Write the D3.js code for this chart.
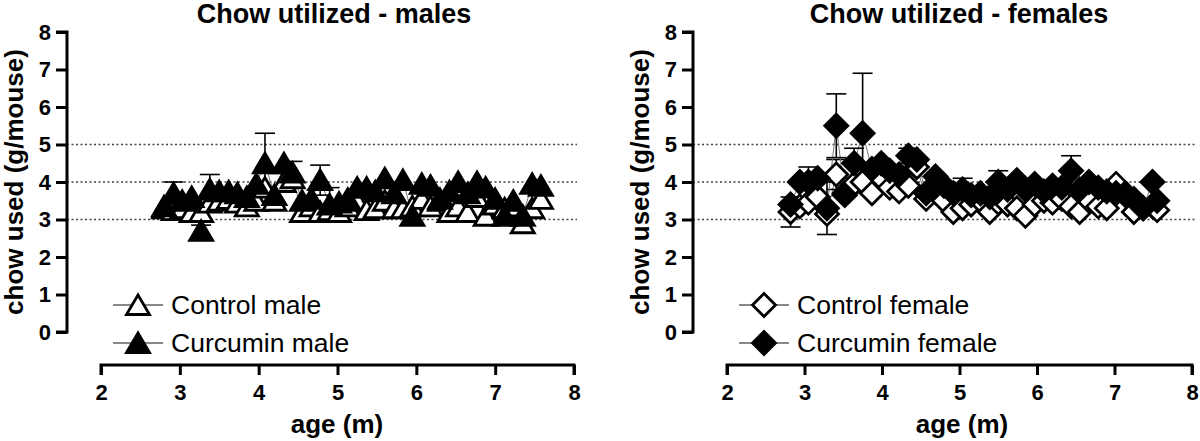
<!DOCTYPE html>
<html>
<head>
<meta charset="utf-8">
<script src="https://cdn.jsdelivr.net/npm/d3@7"></script>
<style>
  body { margin: 0; background: #fff; }
  svg { display: block; font-family: "Liberation Sans", Arial, sans-serif; }
</style>
</head>
<body>
<div id="chart"></div>
<script>
// ages (months) at each measurement
const ageMale = [2.80, 2.92, 3.03, 3.15, 3.27, 3.38, 3.50, 3.62, 3.73, 3.85, 3.97, 4.08, 4.20, 4.32,
  4.43, 4.55, 4.67, 4.78, 4.90, 5.02, 5.13, 5.25, 5.37, 5.48, 5.60, 5.72, 5.83, 5.95, 6.07, 6.18,
  6.30, 6.42, 6.53, 6.65, 6.77, 6.88, 7.00, 7.12, 7.23, 7.35, 7.47, 7.58];
const controlMale = [3.3, 3.25, 3.3, 3.2, 3.2, 3.45, 3.5, 3.55, 3.45, 3.35, 3.5, 3.85, 3.5, 4.0,
  4.1, 3.2, 3.35, 3.2, 3.25, 3.2, 3.35, 3.5, 3.25, 3.3, 3.5, 3.3, 3.3, 3.35, 3.55, 3.35,
  3.5, 3.2, 3.35, 3.2, 3.6, 3.1, 3.4, 3.3, 3.35, 2.9, 3.3, 3.55];
const curcuminMale = [3.35, 3.7, 3.5, 3.6, 2.7, 3.8, 3.75, 3.75, 3.7, 3.6, 3.95, 4.5, 3.65, 4.5,
  4.25, 3.5, 3.55, 4.05, 3.4, 3.45, 3.55, 3.85, 3.85, 3.75, 4.1, 3.7, 4.05, 3.1, 3.95, 3.9,
  3.55, 3.75, 4.0, 3.7, 4.0, 3.85, 3.55, 3.1, 3.5, 3.1, 3.95, 3.9];
const controlMaleErr = [0, 0, 0, 0, 0.35, 0, 0, 0, 0, 0, 0, 0, 0, 0,
  0, 0, 0, 0, 0, 0, 0, 0, 0, 0, 0, 0, 0, 0, 0, 0,
  0, 0, 0, 0, 0, 0, 0, 0, 0, 0, 0, 0];
const curcuminMaleErr = [0, 0.3, 0, 0, 0, 0.4, 0, 0, 0, 0, 0, 0.8, 0, 0,
  0.3, 0, 0, 0.4, 0.45, 0, 0, 0, 0, 0, 0, 0, 0, 0, 0, 0,
  0, 0, 0, 0, 0, 0, 0, 0, 0, 0, 0, 0];

const ageFemale = [2.82, 2.94, 3.05, 3.17, 3.29, 3.41, 3.52, 3.64, 3.75, 3.87, 3.99, 4.10, 4.22, 4.34,
  4.45, 4.57, 4.69, 4.80, 4.92, 5.04, 5.15, 5.27, 5.39, 5.50, 5.62, 5.74, 5.85, 5.97, 6.09, 6.20,
  6.32, 6.44, 6.55, 6.67, 6.79, 6.90, 7.02, 7.14, 7.25, 7.37, 7.49, 7.55];
const controlFemale = [3.2, 3.35, 3.45, 3.6, 3.15, 4.2, 3.7, 3.95, 4.0, 3.7, 4.1, 3.85, 3.75, 3.9,
  4.4, 3.55, 3.9, 3.5, 3.2, 3.3, 3.4, 3.5, 3.2, 3.45, 3.4, 3.3, 3.1, 3.4, 3.5, 3.45,
  3.55, 3.35, 3.2, 3.5, 3.35, 3.3, 3.95, 3.65, 3.2, 3.3, 3.35, 3.25];
const curcuminFemale = [3.4, 4.0, 4.0, 4.1, 3.3, 5.5, 3.65, 4.5, 5.3, 4.35, 4.5, 4.3, 4.2, 4.7,
  4.6, 3.7, 4.15, 3.9, 3.7, 3.8, 3.65, 3.7, 3.6, 4.0, 3.8, 4.05, 3.8, 3.95, 3.75, 3.9,
  3.85, 4.3, 3.8, 4.0, 3.85, 3.75, 3.7, 3.7, 3.55, 3.3, 4.0, 3.5];
const controlFemaleErr = [0.4, 0, 0, 0, 0, 0.4, 0, 0, 0, 0, 0, 0, 0, 0,
  0, 0, 0, 0, 0, 0, 0, 0, 0, 0, 0, 0, 0, 0, 0, 0,
  0, 0, 0, 0, 0, 0, 0, 0, 0, 0, 0, 0];
const curcuminFemaleErr = [0, 0, 0.4, 0, 0.7, 0.85, 0, 0.4, 1.6, 0, 0, 0, 0, 0.2,
  0, 0, 0, 0, 0, 0.3, 0, 0, 0, 0.3, 0, 0, 0, 0, 0, 0,
  0, 0.4, 0, 0, 0, 0, 0, 0, 0, 0, 0, 0];

const yTicks = [0, 1, 2, 3, 4, 5, 6, 7, 8];
const xTicks = [2, 3, 4, 5, 6, 7, 8];
const gridValues = [3, 4, 5];

const width = 1200, height = 441;
const svg = d3.select('#chart').append('svg')
  .attr('width', width)
  .attr('height', height);

const triangle = 'M0,-10L11.5,9.5L-11.5,9.5Z';
const diamond = 'M0,-11.5L11.5,0L0,11.5L-11.5,0Z';

function drawPanel(opts) {
  const x = d3.scaleLinear().domain([2, 8]).range([opts.x0, opts.x1]);
  const y = d3.scaleLinear().domain([0, 8]).range([332, 32]);
  const g = svg.append('g');

  // dotted reference lines
  g.selectAll('.grid')
    .data(gridValues)
    .enter()
    .append('line')
    .attr('x1', opts.yAxisX)
    .attr('x2', opts.x1 + 3)
    .attr('y1', d => y(d))
    .attr('y2', d => y(d))
    .attr('stroke', '#444')
    .attr('stroke-width', 1.3)
    .attr('stroke-dasharray', '2,2.5');

  // y axis
  const yAxis = d3.axisLeft(y).tickValues(yTicks).tickFormat(d3.format('d')).tickSize(11).tickPadding(5);
  g.append('g')
    .attr('transform', `translate(${opts.yAxisX},0)`)
    .call(yAxis)
    .call(a => a.select('.domain').attr('d', `M-11,${y(8)}H0V${y(0)}H-11`))
    .call(a => a.selectAll('path, line').attr('stroke', '#000').attr('stroke-width', 3))
    .call(a => a.selectAll('text')
      .attr('font-size', 22).attr('font-weight', 'bold').attr('fill', '#000')
      .attr('font-family', '"Liberation Sans", Arial, sans-serif'));

  // x axis
  const xAxis = d3.axisBottom(x).tickValues(xTicks).tickFormat(d3.format('d')).tickSize(10).tickPadding(9);
  g.append('g')
    .attr('transform', 'translate(0,365)')
    .call(xAxis)
    .call(a => a.select('.domain').attr('d', `M${x(2)},10V0H${x(8)}V10`))
    .call(a => a.selectAll('path, line').attr('stroke', '#000').attr('stroke-width', 3))
    .call(a => a.selectAll('text')
      .attr('font-size', 22).attr('font-weight', 'bold').attr('fill', '#000')
      .attr('font-family', '"Liberation Sans", Arial, sans-serif'));

  const series = [
    { ages: opts.ages, vals: opts.control, err: opts.controlErr, fill: '#fff' },
    { ages: opts.ages, vals: opts.curcumin, err: opts.curcuminErr, fill: '#000' }
  ];

  const line = d3.line().x(d => x(d[0])).y(d => y(d[1]));

  series.forEach(s => {
    const pts = s.ages.map((a, i) => [a, s.vals[i], s.err[i]]);
    g.append('path')
      .datum(pts)
      .attr('d', line)
      .attr('fill', 'none')
      .attr('stroke', '#777')
      .attr('stroke-width', 1);

    const eb = g.append('g').selectAll('g')
      .data(pts.filter(p => p[2] > 0))
      .enter()
      .append('g')
      .attr('stroke', '#000')
      .attr('stroke-width', 1.6);
    eb.append('line')
      .attr('x1', d => x(d[0])).attr('x2', d => x(d[0]))
      .attr('y1', d => y(d[1] - d[2])).attr('y2', d => y(d[1] + d[2]));
    eb.append('line')
      .attr('x1', d => x(d[0]) - 10).attr('x2', d => x(d[0]) + 10)
      .attr('y1', d => y(d[1] + d[2])).attr('y2', d => y(d[1] + d[2]));
    eb.append('line')
      .attr('x1', d => x(d[0]) - 10).attr('x2', d => x(d[0]) + 10)
      .attr('y1', d => y(d[1] - d[2])).attr('y2', d => y(d[1] - d[2]));
  });

  series.forEach(s => {
    g.append('g').selectAll('path')
      .data(s.ages.map((a, i) => [a, s.vals[i]]))
      .enter()
      .append('path')
      .attr('d', opts.shape)
      .attr('transform', d => `translate(${x(d[0])},${y(d[1])})`)
      .attr('fill', s.fill)
      .attr('stroke', '#000')
      .attr('stroke-width', 2.8)
      .attr('stroke-linejoin', 'miter');
  });

  // title and axis labels
  g.append('text')
    .attr('x', 334 + opts.shift)
    .attr('y', 23)
    .attr('text-anchor', 'middle')
    .attr('font-size', 27)
    .attr('font-weight', 'bold')
    .text(opts.title);

  g.append('text')
    .attr('x', 337 + opts.shift)
    .attr('y', 433)
    .attr('text-anchor', 'middle')
    .attr('font-size', 26)
    .attr('font-weight', 'bold')
    .text('age (m)');

  g.append('text')
    .attr('transform', `translate(${opts.yAxisX - 53},${(y(0) + y(8)) / 2}) rotate(-90)`)
    .attr('text-anchor', 'middle')
    .attr('dominant-baseline', 'central')
    .attr('font-size', 26)
    .attr('font-weight', 'bold')
    .text('chow used (g/mouse)');

  // legend
  const lx = opts.yAxisX + 46;
  opts.legend.forEach((label, i) => {
    const ly = 305 + i * 38;
    const lg = g.append('g');
    lg.append('line')
      .attr('x1', lx).attr('x2', lx + 50)
      .attr('y1', ly).attr('y2', ly)
      .attr('stroke', '#888').attr('stroke-width', 2);
    lg.append('path')
      .attr('d', opts.shape)
      .attr('transform', `translate(${lx + 25},${ly})`)
      .attr('fill', i === 0 ? '#fff' : '#000')
      .attr('stroke', '#000')
      .attr('stroke-width', 2.8);
    lg.append('text')
      .attr('x', lx + 58)
      .attr('y', ly)
      .attr('dominant-baseline', 'central')
      .attr('font-size', 26.5)
      .text(label);
  });
}

drawPanel({
  x0: 101, x1: 574, yAxisX: 67, shift: 0,
  ages: ageMale, control: controlMale, curcumin: curcuminMale,
  controlErr: controlMaleErr, curcuminErr: curcuminMaleErr,
  shape: triangle,
  title: 'Chow utilized - males',
  legend: ['Control male', 'Curcumin male']
});

drawPanel({
  x0: 727, x1: 1192, yAxisX: 693, shift: 625,
  ages: ageFemale, control: controlFemale, curcumin: curcuminFemale,
  controlErr: controlFemaleErr, curcuminErr: curcuminFemaleErr,
  shape: diamond,
  title: 'Chow utilized - females',
  legend: ['Control female', 'Curcumin female']
});
</script>
</body>
</html>
